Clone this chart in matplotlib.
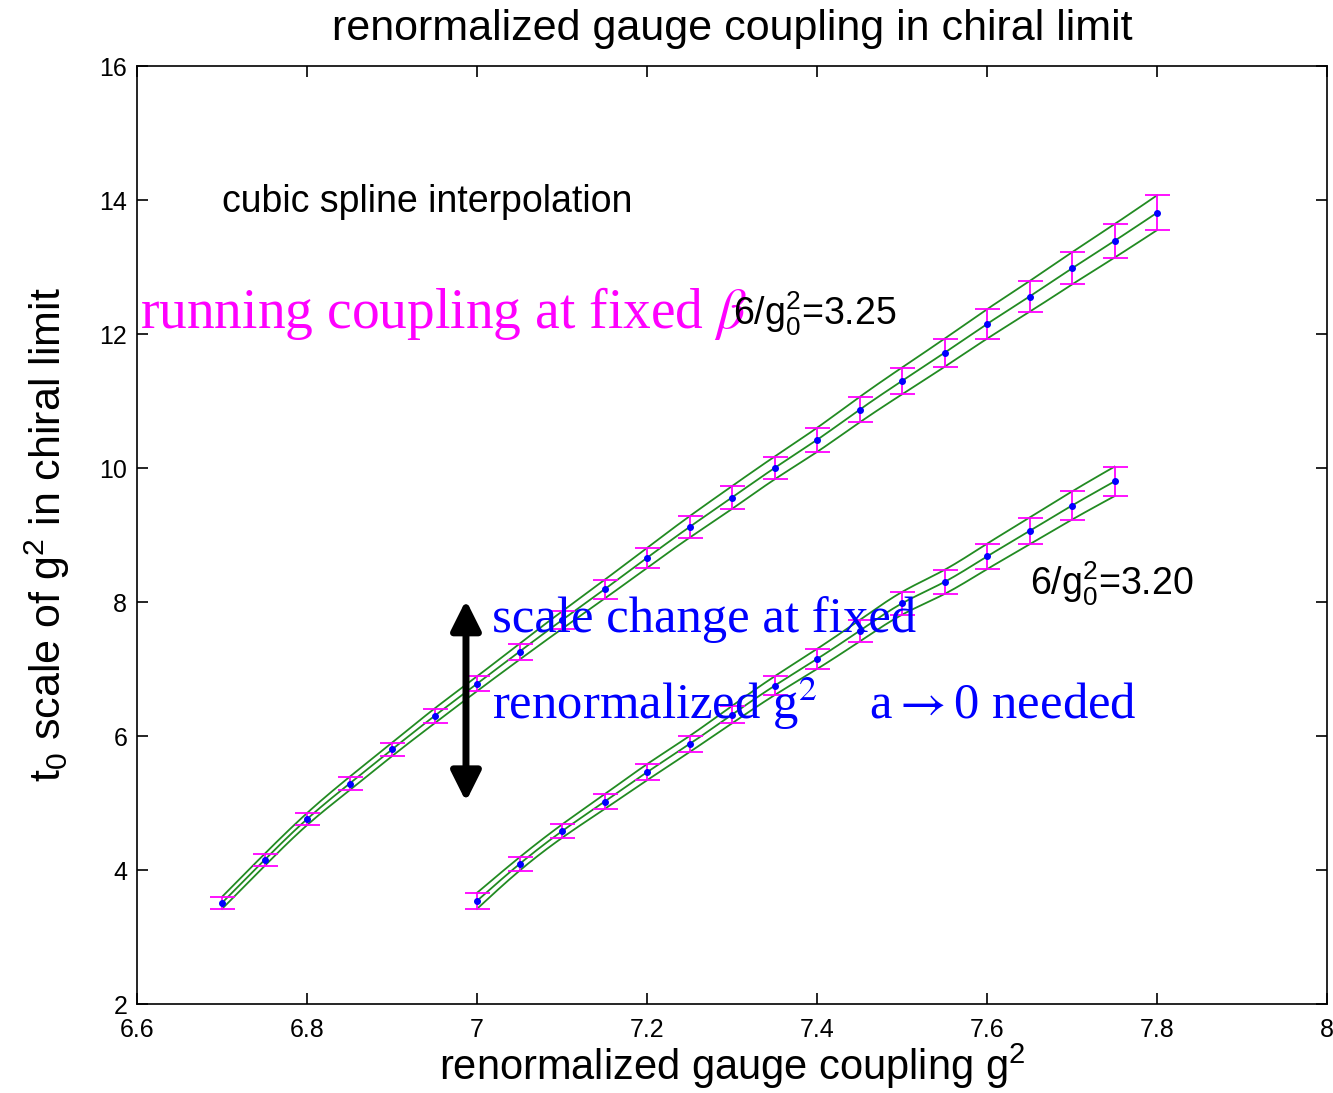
import numpy as np
import matplotlib
matplotlib.use("Agg")
import matplotlib.pyplot as plt

plt.rcParams['font.family'] = ['Liberation Sans', 'DejaVu Sans']
plt.rcParams['mathtext.fontset'] = 'custom'
plt.rcParams['mathtext.rm'] = 'Liberation Sans'
plt.rcParams['mathtext.it'] = 'Liberation Sans'

# beta = 3.25 run
g2_a = [6.70, 6.75, 6.80, 6.85, 6.90, 6.95, 7.00, 7.05, 7.10, 7.15, 7.20, 7.25,
        7.30, 7.35, 7.40, 7.45, 7.50, 7.55, 7.60, 7.65, 7.70, 7.75, 7.80]
t0_a = [3.51, 4.15, 4.76, 5.29, 5.80, 6.30, 6.78, 7.26, 7.73, 8.19, 8.66, 9.12,
        9.56, 10.00, 10.42, 10.87, 11.30, 11.72, 12.15, 12.56, 12.98, 13.39, 13.81]
err_a = [0.09, 0.09, 0.09, 0.10, 0.10, 0.11, 0.11, 0.12, 0.13, 0.14, 0.15, 0.16,
         0.17, 0.17, 0.18, 0.19, 0.20, 0.21, 0.22, 0.23, 0.24, 0.25, 0.26]

# beta = 3.20 run
g2_b = [7.00, 7.05, 7.10, 7.15, 7.20, 7.25, 7.30, 7.35, 7.40, 7.45, 7.50, 7.55,
        7.60, 7.65, 7.70, 7.75]
t0_b = [3.54, 4.09, 4.58, 5.02, 5.46, 5.88, 6.32, 6.75, 7.15, 7.57, 7.98, 8.30,
        8.68, 9.06, 9.44, 9.80]
err_b = [0.12, 0.10, 0.10, 0.11, 0.12, 0.12, 0.13, 0.14, 0.15, 0.16, 0.17, 0.18,
         0.19, 0.20, 0.21, 0.22]


def natural_spline(x, y, n=400):
    x = np.asarray(x, float)
    y = np.asarray(y, float)
    m = len(x)
    h = np.diff(x)
    A = np.zeros((m, m))
    r = np.zeros(m)
    A[0, 0] = A[-1, -1] = 1.0
    for i in range(1, m - 1):
        A[i, i - 1] = h[i - 1]
        A[i, i] = 2 * (h[i - 1] + h[i])
        A[i, i + 1] = h[i]
        r[i] = 3 * ((y[i + 1] - y[i]) / h[i] - (y[i] - y[i - 1]) / h[i - 1])
    c = np.linalg.solve(A, r)
    b = (y[1:] - y[:-1]) / h - h * (2 * c[:-1] + c[1:]) / 3
    d = (c[1:] - c[:-1]) / (3 * h)
    xs = np.linspace(x[0], x[-1], n)
    k = np.clip(np.searchsorted(x, xs) - 1, 0, m - 2)
    dx = xs - x[k]
    return xs, y[k] + b[k] * dx + c[k] * dx**2 + d[k] * dx**3


fig = plt.figure(figsize=(13.33, 10.93), dpi=100)
ax = fig.add_axes([0.1028, 0.0814, 0.8927, 0.8582])

for g2, t0, err in [(g2_a, t0_a, err_a), (g2_b, t0_b, err_b)]:
    t0 = np.array(t0)
    err = np.array(err)
    for yy in (t0 + err, t0, t0 - err):
        xs, ys = natural_spline(g2, yy)
        ax.plot(xs, ys, color='#228B22', lw=1.3)
    ax.errorbar(g2, t0, yerr=err, fmt='o', color='blue', ms=4,
                ecolor='magenta', elinewidth=1.3, capsize=9, capthick=1.3)

ax.annotate('', xy=(6.987, 8.07), xytext=(6.987, 4.98),
            arrowprops=dict(arrowstyle='<|-|>', color='black', lw=5,
                            mutation_scale=45))

ax.text(6.70, 13.97, 'cubic spline interpolation', fontsize=27, va='center')
ax.text(6.603, 12.3, r'running coupling at fixed $\beta$', fontsize=40,
        color='magenta', family='Liberation Serif', va='center',
        math_fontfamily='stix')
ax.text(7.301, 12.3, r'6/g$_0^2$=3.25', fontsize=27, va='center')
ax.text(7.651, 8.27, r'6/g$_0^2$=3.20', fontsize=27, va='center')
ax.text(7.018, 7.74, 'scale change at fixed', fontsize=36.5, color='blue',
        family='Liberation Serif', va='center')
ax.text(7.018, 6.5, r'renormalized g$^2$    a$\rightarrow$0 needed', fontsize=36.5,
        color='blue', family='Liberation Serif', va='center',
        math_fontfamily='stix')

ax.set_xlim(6.6, 8)
ax.set_ylim(2, 16)
ax.set_xticks([6.6, 6.8, 7, 7.2, 7.4, 7.6, 7.8, 8])
ax.set_xticklabels(['6.6', '6.8', '7', '7.2', '7.4', '7.6', '7.8', '8'])
ax.set_yticks([2, 4, 6, 8, 10, 12, 14, 16])
ax.tick_params(direction='in', top=True, right=True, labelsize=18, length=8,
               width=1.2)
ax.tick_params(axis='x', pad=10)
ax.tick_params(axis='y', pad=7)
for s in ax.spines.values():
    s.set_linewidth(1.2)

ax.set_title('renormalized gauge coupling in chiral limit', fontsize=31, pad=19)
ax.set_xlabel(r'renormalized gauge coupling g$^2$', fontsize=30, labelpad=0)
ax.set_ylabel(r't$_0$ scale of g$^2$ in chiral limit', fontsize=31, labelpad=20)

fig.savefig('out.png', dpi=100)
